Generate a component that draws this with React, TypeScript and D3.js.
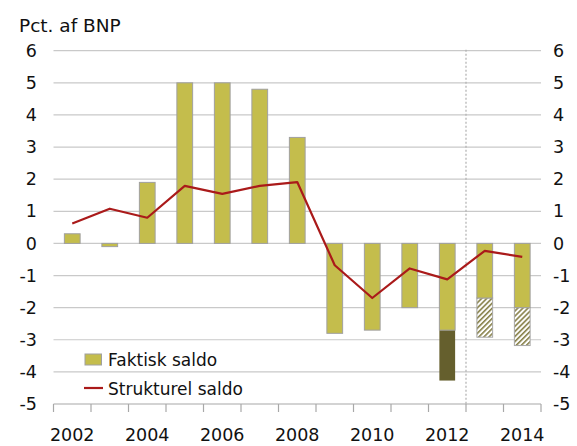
import React from "react";
import * as d3 from "d3";

const years = ["2002","2003","2004","2005","2006","2007","2008","2009","2010","2011","2012","2013","2014"];
const faktiskSaldo = [0.3, -0.1, 1.9, 5.0, 5.0, 4.8, 3.3, -2.8, -2.7, -2.0, -2.7, -1.7, -2.0];
// extra lower segment (total incl. extra) for 2012-2014
const ekstraBund: (number | null)[] = [null, null, null, null, null, null, null, null, null, null, -4.27, -2.92, -3.18];
const ekstraType: (string | null)[] = [null, null, null, null, null, null, null, null, null, null, "solid", "hatch", "hatch"];
const strukturelSaldo = [0.62, 1.08, 0.8, 1.79, 1.54, 1.79, 1.91, -0.68, -1.7, -0.78, -1.12, -0.23, -0.42];
const yTicks = [6, 5, 4, 3, 2, 1, 0, -1, -2, -3, -4, -5];
const labelYears = ["2002","2004","2006","2008","2010","2012","2014"];

const W = 577, H = 446;
const left = 53.5, right = 541, top = 50.7, bottom = 404;
const FONT = "DejaVu Sans, sans-serif";
const OLIVE = "#c4bd4c";
const DARK = "#655f2d";
const RED = "#aa1a1a";

export default function App() {
  const x = d3.scaleBand<string>().domain(years).range([left, right]).paddingInner(0).paddingOuter(0);
  const y = d3.scaleLinear().domain([-5, 6]).range([bottom, top]);
  const bw = x.bandwidth() * 0.42;
  const cx = (yr: string) => (x(yr) as number) + x.bandwidth() / 2;
  const line = d3.line<number>().x((_, i) => cx(years[i])).y((v) => y(v));
  const boundaries = years.map((yr) => x(yr) as number).concat([right]);
  const dashX = x("2013") as number;

  return (
    <svg width={W} height={H} style={{ position: "absolute", left: 0, top: 0, background: "#fff" }} fontFamily={FONT}>
      <defs>
        <pattern id="hatch" patternUnits="userSpaceOnUse" width="3.6" height="3.6" patternTransform="rotate(45)">
          <rect width="3.6" height="3.6" fill="#fff" />
          <line x1="0.8" y1="0" x2="0.8" y2="3.6" stroke="#878149" strokeWidth="1.6" />
        </pattern>
      </defs>
      <text x={19} y={31.5} fontSize={18.5} fill="#111">Pct. af BNP</text>
      {yTicks.map((t) => (
        <g key={t}>
          {t !== -5 && <line x1={left} x2={right} y1={y(t)} y2={y(t)} stroke="#c9c9c9" strokeWidth={1.2} />}
          <text x={37} y={y(t)} dy="0.35em" textAnchor="end" fontSize={17.5} fill="#111">{t}</text>
          <text x={553} y={y(t)} dy="0.35em" textAnchor="start" fontSize={17.5} fill="#111">{t}</text>
        </g>
      ))}
      <line x1={dashX} x2={dashX} y1={top - 1} y2={bottom} stroke="#b0b0b0" strokeWidth={1.2} strokeDasharray="2,2" />
      {years.map((yr, i) => {
        const v = faktiskSaldo[i];
        const b = ekstraBund[i];
        const t = ekstraType[i];
        return (
          <g key={yr}>
            {b !== null && (
              <rect x={cx(yr) - bw / 2} width={bw} y={y(v)} height={y(b) - y(v)}
                fill={t === "solid" ? DARK : "url(#hatch)"} stroke={t === "solid" ? "none" : "#a8a8a8"} strokeWidth={1} />
            )}
            <rect x={cx(yr) - bw / 2} width={bw} y={Math.min(y(v), y(0))} height={Math.abs(y(v) - y(0))}
              fill={OLIVE} stroke="#a0a0a0" strokeWidth={1} />
          </g>
        );
      })}
      <path d={line(strukturelSaldo) as string} fill="none" stroke={RED} strokeWidth={2.2} strokeLinejoin="round" />
      <line x1={left} x2={right} y1={bottom} y2={bottom} stroke="#a8a8a8" strokeWidth={1.2} />
      {boundaries.map((bx, i) => (
        <line key={i} x1={bx} x2={bx} y1={bottom} y2={bottom + 8} stroke="#a8a8a8" strokeWidth={1.2} />
      ))}
      {labelYears.map((yr) => (
        <text key={yr} x={cx(yr)} y={441} textAnchor="middle" fontSize={17.5} fill="#111">{yr}</text>
      ))}
      <rect x={85} y={354} width={16.5} height={11} fill={OLIVE} stroke="#a0a0a0" strokeWidth={1} />
      <text x={108} y={365.5} fontSize={17} fill="#111">Faktisk saldo</text>
      <line x1={84} x2={103} y1={388} y2={388} stroke={RED} strokeWidth={2.2} />
      <text x={108} y={394.5} fontSize={17} fill="#111">Strukturel saldo</text>
    </svg>
  );
}
